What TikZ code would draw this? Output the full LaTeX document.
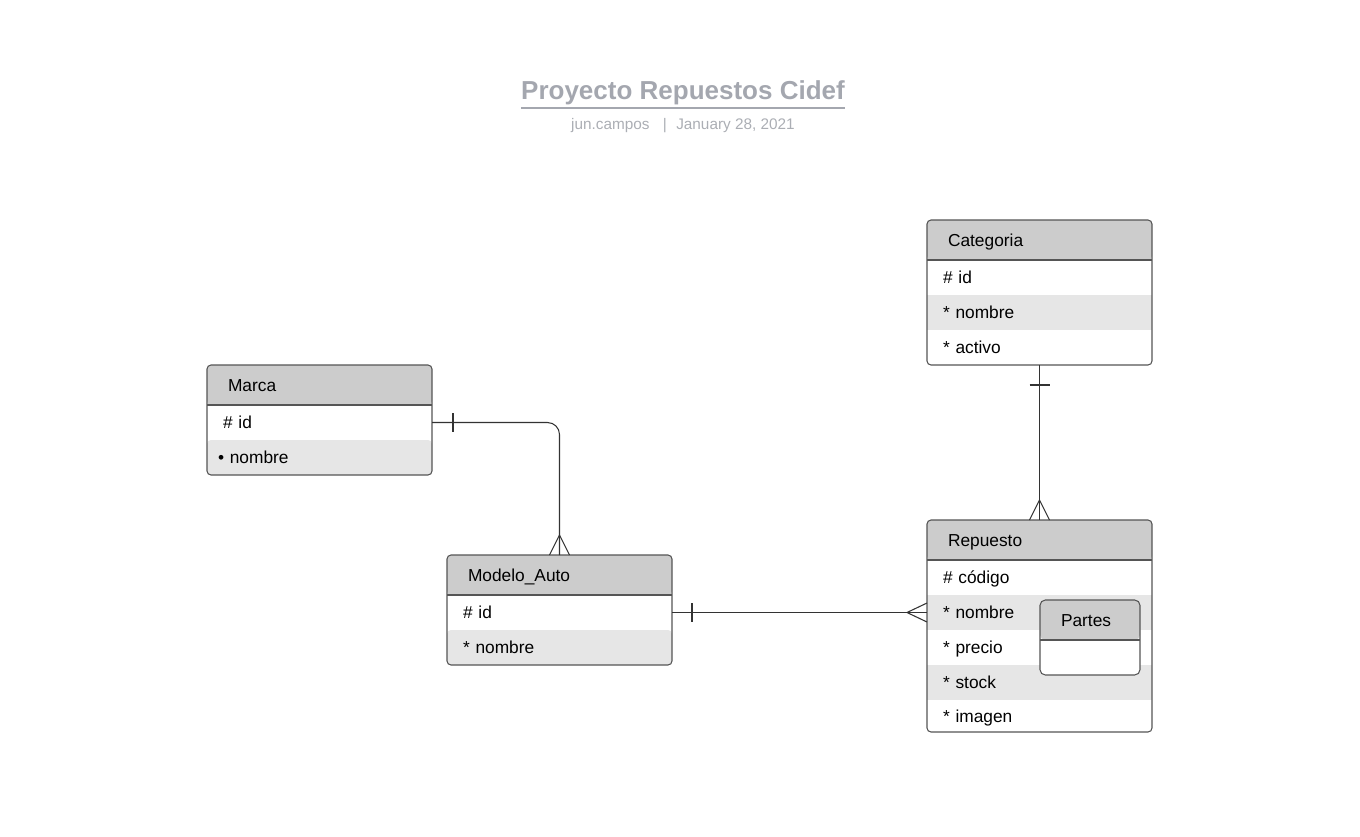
\documentclass[tikz,border=0pt]{standalone}
\usepackage{fontspec}
\setmainfont{Liberation Sans}
\usepackage{xcolor}
\usepackage{tikz}
\usetikzlibrary{calc,positioning}
\definecolor{headgray}{HTML}{CCCCCC}
\definecolor{rowgray}{HTML}{E6E6E6}
\definecolor{edgegray}{HTML}{555555}
\definecolor{titlegray}{HTML}{A4A7AF}
\definecolor{subgray}{HTML}{ABAEB4}
\tikzset{
  ent_h/.style = {anchor=north west, fill=headgray, rounded corners=3pt, inner xsep=15.75pt, inner ysep=0pt, outer sep=0pt, text width=137.25pt, text height=11pt, text depth=1.7pt, minimum height=30pt, align=left, font=\fontsize{13}{15}\selectfont},
  ent_r/.style = {anchor=north west, inner xsep=12pt, inner ysep=0pt, outer sep=0pt, text width=144.75pt, text height=11pt, text depth=1.7pt, minimum height=26.25pt, align=left, font=\fontsize{13}{15}\selectfont},
  ent_g/.style = {ent_r, fill=rowgray},
  ent_box/.style = {draw=edgegray, line width=0.8pt, rounded corners=3pt},
  ent_sep/.style = {draw=edgegray, line width=0.8pt},
  conn/.style = {draw=black!80, line width=0.8pt}
}
\begin{document}
\begin{tikzpicture}[x=0.75pt, y=-0.75pt]
  \useasboundingbox (0,0) rectangle (1360,836);

  \node[anchor=base, inner sep=0pt, text=titlegray, font=\fontsize{19.5}{22}\selectfont\bfseries] (title) at (683,99) {Proyecto Repuestos Cidef};
  \draw[titlegray, line width=1.5pt] ($(title.base west)+(0,9)$) -- ($(title.base east)+(0,9)$);
  \node[anchor=base, inner sep=0pt, text=subgray, font=\fontsize{11.5}{14}\selectfont] (subtitle) at (683,129) {jun.campos\hspace{10pt}|\hspace{7pt}January 28, 2021};

  \node[ent_h] (marca) at (207,365) {Marca};
  \node[ent_r] (marca-id) at (marca.south west) {\# id};
  \node[ent_g, rounded corners=3pt, inner xsep=8.25pt, text width=152.25pt] (marca-nombre) at (marca-id.south west) {• nombre};
  \draw[ent_box] (marca.north west) rectangle (marca-nombre.south east);
  \draw[ent_sep] (marca.south west) -- (marca.south east);

  \node[ent_h] (modelo) at (447,555) {Modelo\_Auto};
  \node[ent_r] (modelo-id) at (modelo.south west) {\# id};
  \node[ent_g, rounded corners=3pt] (modelo-nombre) at (modelo-id.south west) {* nombre};
  \draw[ent_box] (modelo.north west) rectangle (modelo-nombre.south east);
  \draw[ent_sep] (modelo.south west) -- (modelo.south east);

  \node[ent_h] (cat) at (927,220) {Categoria};
  \node[ent_r] (cat-id) at (cat.south west) {\# id};
  \node[ent_g] (cat-nombre) at (cat-id.south west) {* nombre};
  \node[ent_r] (cat-activo) at (cat-nombre.south west) {* activo};
  \draw[ent_box] (cat.north west) rectangle (cat-activo.south east);
  \draw[ent_sep] (cat.south west) -- (cat.south east);

  \node[ent_h] (rep) at (927,520) {Repuesto};
  \node[ent_r] (rep-codigo) at (rep.south west) {\# código};
  \node[ent_g] (rep-nombre) at (rep-codigo.south west) {* nombre};
  \node[ent_r] (rep-precio) at (rep-nombre.south west) {* precio};
  \node[ent_g] (rep-stock) at (rep-precio.south west) {* stock};
  \node[ent_r, minimum height=24pt] (rep-imagen) at (rep-stock.south west) {* imagen};
  \draw[ent_box] (rep.north west) rectangle (rep-imagen.south east);
  \draw[ent_sep] (rep.south west) -- (rep.south east);

  \node[ent_h, text width=43.5pt, rounded corners=4pt] (partes) at (1040,600) {Partes};
  \node[ent_r, fill=white, text width=51pt, rounded corners=4pt] (partes-body) at (partes.south west) {};
  \draw[ent_box, rounded corners=4pt] (partes.north west) rectangle (partes-body.south east);
  \draw[ent_sep] (partes.south west) -- (partes.south east);

  \draw[conn, rounded corners=9pt] (marca-id.east) -| (modelo.north);
  \draw[conn] ($(marca-id.east)+(21,-9.5)$) -- ++(0,19);
  \draw[conn] ($(modelo.north)+(-10,0)$) -- ++(10,-20) -- ++(10,20);

  \draw[conn] (modelo-id.east) -- (rep-nombre.west);
  \draw[conn] ($(modelo-id.east)+(20,-9.5)$) -- ++(0,19);
  \draw[conn] ($(rep-nombre.west)+(0,-9.5)$) -- ++(-20,9.5) -- ++(20,9.5);

  \draw[conn] (cat-activo.south) -- (rep.north);
  \draw[conn] ($(cat-activo.south)+(-10,20)$) -- ++(20,0);
  \draw[conn] ($(rep.north)+(-10,0)$) -- ++(10,-20) -- ++(10,20);
\end{tikzpicture}
\end{document}
